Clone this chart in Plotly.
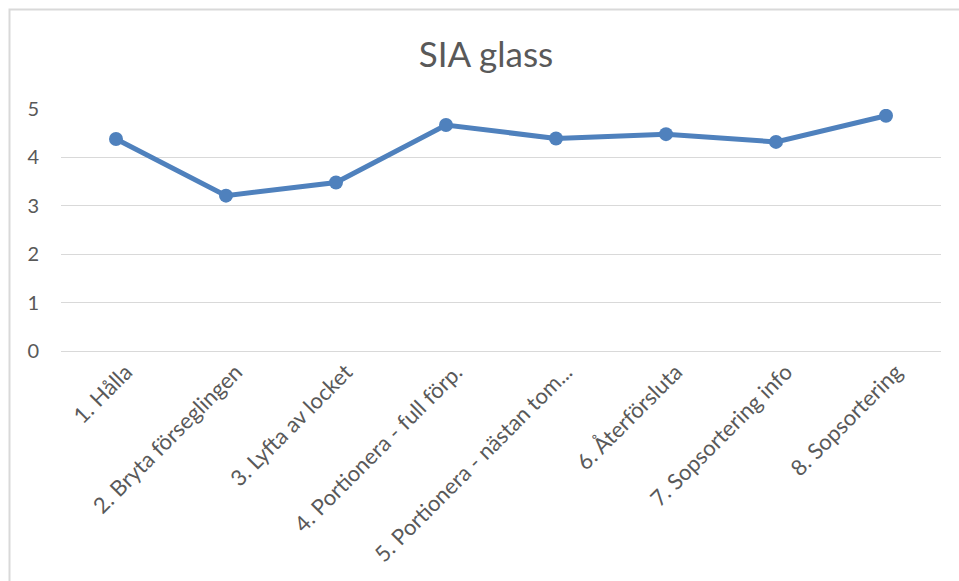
import plotly.graph_objects as go

categories = [
    "1. Hålla",
    "2. Bryta förseglingen",
    "3. Lyfta av locket",
    "4. Portionera - full förp.",
    "5. Portionera - nästan tom...",
    "6. Återförsluta",
    "7. Sopsortering info",
    "8. Sopsortering",
]
values = [4.38, 3.21, 3.48, 4.67, 4.39, 4.48, 4.32, 4.86]
y_ticks = [0, 1, 2, 3, 4, 5]
title_text = "SIA glass"

W, H = 959, 581
ML, MR, MT, MB = 61, 18, 109, 230
pw = W - ML - MR
ph = H - MT - MB

FONT = "Lato, 'Open Sans', sans-serif"
TXT = "#595959"
GRID = "#d9d9d9"
BLUE = "#4f81bd"

fig = go.Figure()
fig.add_trace(go.Scatter(
    x=categories, y=values, mode="lines+markers",
    line=dict(color=BLUE, width=5),
    marker=dict(color=BLUE, size=14),
    hoverinfo="x+y", showlegend=False,
))

# chart-area border (light gray frame, partly outside the window)
bx = (9.5 - ML) / pw
by = 1 + (MT - 9.5) / ph
fig.add_shape(type="rect", xref="paper", yref="paper",
              x0=bx, y0=-3, x1=3, y1=by,
              line=dict(color=GRID, width=2), fillcolor="rgba(0,0,0,0)", layer="below")

fig.update_layout(
    width=W, height=H,
    margin=dict(l=ML, r=MR, t=MT, b=MB, pad=0, autoexpand=False),
    paper_bgcolor="white", plot_bgcolor="white",
    font=dict(family=FONT, color=TXT, size=20),
    title=dict(text=title_text, x=486 / W, xanchor="center", xref="container",
               y=1 - 55 / H, yref="container", yanchor="middle",
               font=dict(family=FONT, size=35, color=TXT)),
    xaxis=dict(type="category", tickangle=-45, showgrid=False, automargin=False,
               showline=False, ticks="", tickfont=dict(size=22, color=TXT),
               ticklabelstandoff=3, ticklabelshift=10,
               range=[-0.5, len(categories) - 0.5]),
    yaxis=dict(range=[0, 5], tickvals=y_ticks, showgrid=True, gridcolor=GRID,
               automargin=False,
               gridwidth=1.3, zeroline=True, zerolinecolor=GRID, zerolinewidth=1.3,
               showline=False, ticks="", tickfont=dict(size=20, color=TXT),
               ticklabelstandoff=21),
)

fig.write_html(
    "out.html",
    config={"displayModeBar": False},
    post_script="document.body.style.margin='0';document.body.style.overflow='hidden';",
)
